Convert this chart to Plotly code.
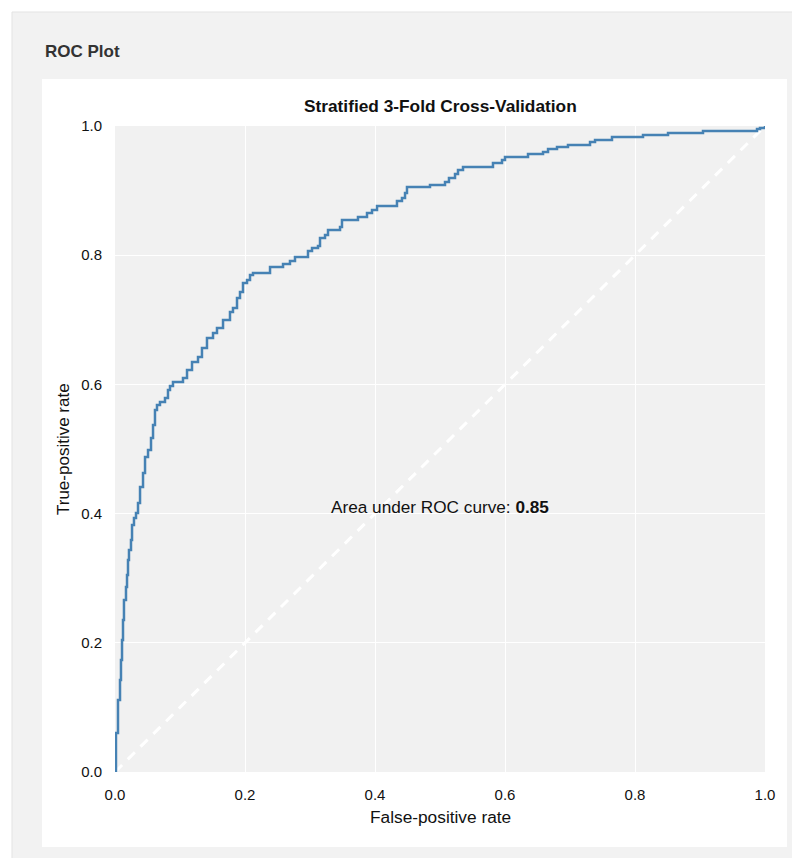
import plotly.graph_objects as go

# ROC curve values (false-positive rate, true-positive rate)
fpr = [0.0, 0.0015, 0.0046, 0.0077, 0.0092, 0.0108, 0.0123, 0.0138, 0.0169, 0.0185,
       0.0200, 0.0215, 0.0246, 0.0262, 0.0292, 0.0323, 0.0354, 0.0385, 0.0431, 0.0462,
       0.0508, 0.0554, 0.0585, 0.0615, 0.0646, 0.0692, 0.0769, 0.0815, 0.0846, 0.0892,
       0.1046, 0.1108, 0.1185, 0.1277, 0.1338, 0.1415, 0.1508, 0.1569, 0.1662, 0.1769,
       0.1815, 0.1877, 0.1923, 0.1969, 0.2031, 0.2077, 0.2123, 0.2385, 0.2585, 0.2692,
       0.2769, 0.2969, 0.3031, 0.3123, 0.3154, 0.3231, 0.3277, 0.3462, 0.3492, 0.3738,
       0.3877, 0.3954, 0.4031, 0.4338, 0.4415, 0.4462, 0.4492, 0.4846, 0.5077, 0.5138,
       0.5231, 0.5277, 0.5354, 0.5815, 0.5954, 0.6000, 0.6354, 0.6585, 0.6662, 0.6800,
       0.6969, 0.7308, 0.7385, 0.7646, 0.8123, 0.8508, 0.9046, 0.9877, 0.9923, 1.0]
tpr = [0.0, 0.0604, 0.1115, 0.1424, 0.1734, 0.2043, 0.2353, 0.2663, 0.2864, 0.3050,
       0.3282, 0.3437, 0.3591, 0.3824, 0.3932, 0.4009, 0.4164, 0.4412, 0.4628, 0.4876,
       0.4985, 0.5170, 0.5372, 0.5604, 0.5681, 0.5728, 0.5789, 0.5913, 0.5975, 0.6037,
       0.6099, 0.6223, 0.6347, 0.6424, 0.6563, 0.6718, 0.6796, 0.6873, 0.6997, 0.7121,
       0.7183, 0.7337, 0.7430, 0.7570, 0.7616, 0.7693, 0.7724, 0.7817, 0.7864, 0.7910,
       0.7972, 0.8065, 0.8111, 0.8142, 0.8266, 0.8313, 0.8390, 0.8437, 0.8545, 0.8591,
       0.8653, 0.8700, 0.8762, 0.8839, 0.8885, 0.8963, 0.9056, 0.9087, 0.9133, 0.9195,
       0.9257, 0.9319, 0.9365, 0.9427, 0.9474, 0.9520, 0.9567, 0.9598, 0.9644, 0.9675,
       0.9706, 0.9752, 0.9783, 0.9830, 0.9861, 0.9892, 0.9923, 0.9954, 0.9969, 1.0]

diag = [0.0, 1.0]
tick_vals = [0.0, 0.2, 0.4, 0.6, 0.8, 1.0]
tick_text = ["0.0", "0.2", "0.4", "0.6", "0.8", "1.0"]
auc = 0.85

FONT = "Liberation Sans, Arial, Helvetica, sans-serif"

fig = go.Figure()
fig.add_trace(go.Scatter(x=diag, y=diag, mode="lines",
                         line=dict(color="white", width=3, dash="10px,8px"),
                         hoverinfo="skip", showlegend=False))
fig.add_trace(go.Scatter(x=fpr, y=tpr, mode="lines", line_shape="hv",
                         line=dict(color="#4682b4", width=2.5), showlegend=False))

axis_common = dict(range=[0, 1], tickvals=tick_vals, ticktext=tick_text,
                   showgrid=True, gridcolor="white", gridwidth=1, zeroline=False,
                   showline=False, ticks="outside", ticklen=9, tickcolor="rgba(0,0,0,0)",
                   tickfont=dict(family=FONT, size=15, color="#111"), fixedrange=True)
fig.update_xaxes(**axis_common)
fig.update_yaxes(**axis_common)

# page body has an 8px margin; positions below are reference-screen pixels
OFF = 8
W, H = 800 - OFF, 858 - OFF
L, R, T, B = 115, 765, 126, 772
pw, ph = R - L, B - T

def px(xp):
    return (xp - L) / pw

def py(yp):
    return (B - yp) / ph

shapes = [
    dict(type="rect", xref="paper", yref="paper", x0=px(12), x1=px(797), y0=py(880), y1=py(12),
         fillcolor="#f2f2f2", line=dict(color="#e3e3e3", width=1), layer="below"),
    dict(type="rect", xref="paper", yref="paper", x0=px(42), x1=px(787), y0=py(847), y1=py(79),
         fillcolor="white", line=dict(width=0), layer="below"),
    dict(type="rect", xref="paper", yref="paper", x0=0, x1=1, y0=0, y1=1,
         fillcolor="#f1f1f1", line=dict(width=0), layer="below"),
]

annotations = [
    dict(text="<b>ROC Plot</b>", xref="paper", yref="paper", x=px(43), y=py(51),
         xanchor="left", yanchor="middle", showarrow=False,
         font=dict(family=FONT, size=17, color="#333")),
    dict(text="<b>Stratified 3-Fold Cross-Validation</b>", xref="paper", yref="paper",
         x=0.5, y=py(106), xanchor="center", yanchor="middle", showarrow=False,
         font=dict(family=FONT, size=17.3, color="#111")),
    dict(text="True-positive rate", xref="paper", yref="paper", x=px(63), y=0.5,
         xanchor="center", yanchor="middle", textangle=-90, showarrow=False,
         font=dict(family=FONT, size=17, color="#111")),
    dict(text="False-positive rate", xref="paper", yref="paper", x=0.5, y=py(817),
         xanchor="center", yanchor="middle", showarrow=False,
         font=dict(family=FONT, size=17.3, color="#111")),
    dict(text=f"Area under ROC curve: <b>{auc:.2f}</b>", xref="x", yref="y",
         x=0.5, y=py(507), xanchor="center", yanchor="middle", showarrow=False,
         font=dict(family=FONT, size=17.2, color="#111")),
]

fig.update_layout(
    width=W, height=H, autosize=False,
    margin=dict(l=L - OFF, r=800 - R, t=T - OFF, b=858 - B, pad=0),
    paper_bgcolor="white", plot_bgcolor="rgba(0,0,0,0)",
    shapes=shapes, annotations=annotations, showlegend=False,
    font=dict(family=FONT),
)

fig.write_html("out.html", config={"displayModeBar": False})
